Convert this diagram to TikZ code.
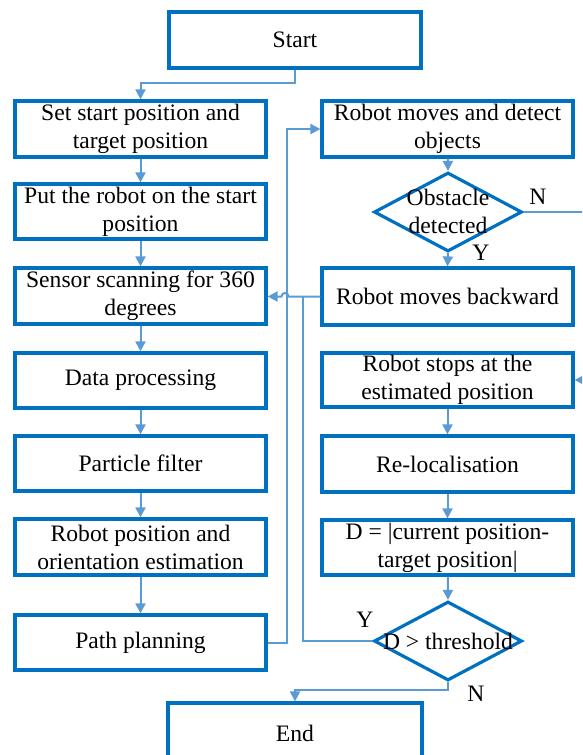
\documentclass[tikz,border=0pt]{standalone}
\usepackage{fontspec}
\setmainfont{Liberation Serif}
\usetikzlibrary{arrows.meta,shapes.geometric}
\definecolor{boxblue}{RGB}{0,112,192}
\definecolor{linkblue}{RGB}{91,155,213}

\begin{document}
\begin{tikzpicture}[x=1pt,y=-1pt,
  font=\fontsize{23.6}{28}\selectfont,
  stepbox/.style={draw=boxblue,line width=3.2pt,align=center,inner sep=0pt,
                  minimum width=251pt,minimum height=56pt},
  decision/.style={diamond,draw=boxblue,line width=3.2pt,inner sep=0pt,
                   minimum width=148pt,minimum height=79pt},
  link/.style={draw=linkblue,line width=2pt},
  flow/.style={link,-{Triangle[length=10pt,width=10pt]}},
  tag/.style={inner sep=0pt}
]
\useasboundingbox (0,0) rectangle (582,755);
\clip (0,0) rectangle (582,755);

% left column
\node[stepbox,minimum width=252pt] (start) at (295,40) {Start};
\node[stepbox] (set)      at (140.5,129)   {Set start position and\\target position};
\node[stepbox,minimum height=55pt] (put) at (140.5,211.5) {Put the robot on the start\\position};
\node[stepbox] (sensor)   at (140.5,296)   {Sensor scanning for 360\\degrees};
\node[stepbox,minimum height=55pt] (data) at (140.5,380.5) {Data processing};
\node[stepbox,minimum height=55pt] (particle) at (140.5,463.5) {Particle filter};
\node[stepbox] (pose)     at (140.5,547)   {Robot position and\\orientation estimation};
\node[stepbox,minimum height=55pt] (path) at (140.5,642.5) {Path planning};

% right column
\node[stepbox] (move)     at (447.5,129)   {Robot moves and detect\\objects};
\node[decision] (obst)    at (448,212) {};
\node[tag,align=center] (obsttxt) at (448,211) {Obstacle\\detected};
\node[stepbox,minimum height=57pt] (back) at (447.5,296.5) {Robot moves backward};
\node[stepbox,minimum height=54pt] (stop) at (447.5,380) {Robot stops at the\\estimated position};
\node[stepbox] (reloc)    at (447.5,464)   {Re-localisation};
\node[stepbox,minimum height=55pt] (dist) at (447.5,547.5) {D = |current position-\\target position|};
\node[decision] (thr)     at (448,641) {};
\node[tag] (thrtxt)       at (448,641) {D > threshold};

\node[stepbox,minimum width=254pt,minimum height=60pt] (end) at (295,733) {End};

% branch labels
\node[tag] (obstN) at (538,197) {N};
\node[tag] (obstY) at (481,253) {Y};
\node[tag] (thrY)  at (365,620) {Y};
\node[tag] (thrN)  at (476,694) {N};

% helper points
\coordinate (hop)  at (285,296.5);
\coordinate (join) at (303,296.5);

% main sequence
\draw[flow] (start.south) -- ++(0,13) -| (set.north);
\draw[flow] (set) -- (put);
\draw[flow] (put) -- (sensor);
\draw[flow] (sensor) -- (data);
\draw[flow] (data) -- (particle);
\draw[flow] (particle) -- (pose);
\draw[flow] (pose) -- (path);
\draw[flow] (path.east) -- ++(19,0) |- (move.west);
\draw[flow] (move) -- (obst.north);
\draw[flow] (obst.south) -- (back.north);
\draw[flow] (obst.east) -- ++(80,0) |- (stop.east);
\draw[flow] (back.west) -- ([xshift=3.5pt]hop)
  arc[start angle=0,end angle=180,radius=3.5pt] -- (sensor.east |- hop);
\draw[flow] (stop) -- (reloc);
\draw[flow] (reloc) -- (dist);
\draw[flow] (dist) -- (thr.north);
\draw[link] (thr.west) -| (join);
\draw[flow] (thr.south) -- ++(0,8) -| (end.north);
\end{tikzpicture}
\end{document}
